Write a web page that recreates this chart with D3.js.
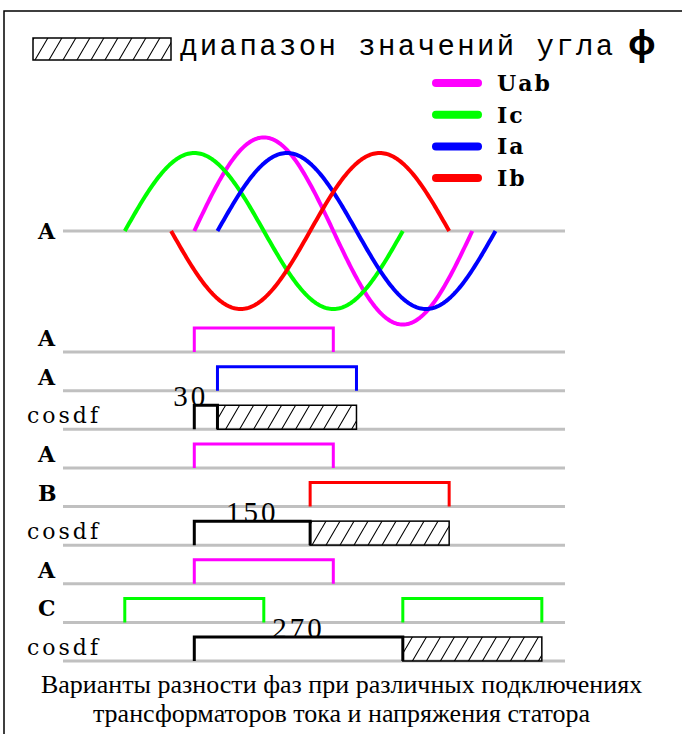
<!DOCTYPE html>
<html><head><meta charset="utf-8">
<script src="https://cdn.jsdelivr.net/npm/d3@7"></script>
<style>
html,body{margin:0;padding:0;background:#fff;}
svg{display:block;}
</style></head>
<body>
<svg id="chart" width="682" height="734"></svg>
<script>
// ---- data ----
const legendTitle = "диапазон значений угла";
const phiSymbol = "φ";
const waveNames = ["Uab", "Ic", "Ia", "Ib"];
const waveColors = ["#ff00ff", "#00ff00", "#0000ff", "#ff0000"];
const waveStartDeg = [0, -90, 30, -30];      // where each drawn wave starts (deg)
const waveEndDeg = [360, 270, 390, 330];     // where each drawn wave ends (deg)
const wavePhaseDeg = [0, -90, 30, 150];      // zero crossing (rising) of each wave
const waveAmplitude = [1.2, 1.0, 1.0, 1.0];
const waveAxisLabel = "A";

const rowLabels = ["A", "A", "cosdf", "A", "B", "cosdf", "A", "C", "cosdf"];
const rowColors = ["#ff00ff", "#0000ff", "#000000", "#ff00ff", "#ff0000", "#000000", "#ff00ff", "#00ff00", "#000000"];
const rowPulses = [[[0, 180]], [[30, 210]], [[0, 30]], [[0, 180]], [[150, 330]], [[0, 150]], [[0, 180]], [[-90, 90], [270, 450]], [[0, 270]]];
const rowHatch = [null, null, [30, 210], null, null, [150, 330], null, null, [270, 450]];
const rowAngleText = [null, null, "30", null, null, "150", null, null, "270"];

const captionLines = ["Варианты разности фаз при различных подключениях", "трансформаторов тока и напряжения статора"];

// ---- drawing ----
const svg = d3.select("#chart");
const mono = "'Liberation Mono', 'DejaVu Sans Mono', monospace";
const serif = "'Liberation Serif', 'DejaVu Serif', serif";
const slab = "'DejaVu Serif', 'Liberation Serif', serif";

const defs = svg.append("defs");
const pat = defs.append("pattern").attr("id", "hatch")
  .attr("patternUnits", "userSpaceOnUse").attr("width", 14).attr("height", 24);
pat.append("path").attr("d", "M0,24 L14,0 M-14,24 L0,0 M14,24 L28,0")
  .attr("stroke", "#000").attr("stroke-width", 1.1);

// frame
svg.append("rect").attr("x", 4).attr("y", 11).attr("width", 720).attr("height", 800)
  .attr("fill", "none").attr("stroke", "#000").attr("stroke-width", 1.5);

// legend hatch
svg.append("rect").attr("x", 33).attr("y", 38).attr("width", 138).attr("height", 22)
  .attr("fill", "url(#hatch)").attr("stroke", "#000").attr("stroke-width", 1.5);
svg.append("text").attr("x", 180).attr("y", 55)
  .attr("font-family", mono).attr("font-size", 29).attr("letter-spacing", 2.4)
  .text(legendTitle);
svg.append("text").attr("x", 628).attr("y", 55)
  .attr("font-family", "'Noto Sans', sans-serif").attr("font-weight", "bold").attr("font-size", 34)
  .text(phiSymbol);

// scales
const x = d3.scaleLinear().domain([-170, 480]).range([63, 565]);
const yWave = d3.scaleLinear().domain([-1, 1]).range([231 + 78, 231 - 78]);
const rowY = d3.scaleLinear().domain([0, 8]).range([352, 661]);
const pulseH = 24;

// wave axis
svg.append("line").attr("x1", x(-170)).attr("x2", x(480)).attr("y1", yWave(0)).attr("y2", yWave(0))
  .attr("stroke", "#c0c0c0").attr("stroke-width", 3);
svg.append("text").attr("x", 38).attr("y", yWave(0) + 8)
  .attr("font-family", slab).attr("font-weight", "bold").attr("font-size", 22).text(waveAxisLabel);

// waves
const drawOrder = [0, 1, 2, 3];
drawOrder.forEach(i => {
  const pts = d3.range(waveStartDeg[i], waveEndDeg[i] + 0.5, 2).map(a => [a, waveAmplitude[i] * Math.sin((a - wavePhaseDeg[i]) * Math.PI / 180)]);
  svg.append("path").datum(pts)
    .attr("d", d3.line().x(d => x(d[0])).y(d => yWave(d[1])))
    .attr("fill", "none").attr("stroke", waveColors[i]).attr("stroke-width", 4)
    .attr("stroke-linejoin", "round");
});

// legend of waves
waveNames.forEach((n, i) => {
  const ly = 83 + i * 31.7;
  svg.append("line").attr("x1", 436).attr("x2", 478).attr("y1", ly).attr("y2", ly)
    .attr("stroke", waveColors[i]).attr("stroke-width", 8).attr("stroke-linecap", "round");
  svg.append("text").attr("x", 497).attr("y", ly + 8)
    .attr("font-family", slab).attr("font-weight", "bold").attr("font-size", 22).attr("letter-spacing", 2)
    .text(n);
});

// pulse rows
rowLabels.forEach((lab, r) => {
  const base = rowY(r);
  svg.append("line").attr("x1", x(-170)).attr("x2", x(480)).attr("y1", base).attr("y2", base)
    .attr("stroke", "#c0c0c0").attr("stroke-width", 3);
  svg.append("text").attr("x", lab === "cosdf" ? 27 : 38).attr("y", base - 6)
    .attr("font-family", slab).attr("font-weight", lab === "cosdf" ? "normal" : "bold").attr("font-size", 22)
    .attr("letter-spacing", lab === "cosdf" ? 3 : 0)
    .text(lab);
  if (rowHatch[r]) {
    const h = rowHatch[r];
    svg.append("rect").attr("x", x(h[0])).attr("y", base - pulseH).attr("width", x(h[1]) - x(h[0])).attr("height", pulseH)
      .attr("fill", "url(#hatch)").attr("stroke", "#000").attr("stroke-width", 1.5);
  }
  rowPulses[r].forEach(p => {
    svg.append("path")
      .attr("d", `M${x(p[0])},${base} V${base - pulseH} H${x(p[1])} V${base}`)
      .attr("fill", "none").attr("stroke", rowColors[r]).attr("stroke-width", 3);
  });
  if (rowAngleText[r]) {
    const p = rowPulses[r][0];
    const w = x(p[1]) - x(p[0]);
    const t = svg.append("text").attr("y", base - pulseH + 1)
      .attr("font-family", serif).attr("font-size", 29).attr("letter-spacing", 3)
      .text(rowAngleText[r]);
    if (w < 60) t.attr("x", x(p[0]) - 21);
    else t.attr("x", (x(p[0]) + x(p[1])) / 2).attr("text-anchor", "middle");
  }
});

// caption
captionLines.forEach((c, i) => {
  svg.append("text").attr("x", 341.5).attr("y", 693 + i * 29)
    .attr("text-anchor", "middle").attr("font-family", serif).attr("font-size", 26)
    .text(c);
});
</script>
</body></html>
